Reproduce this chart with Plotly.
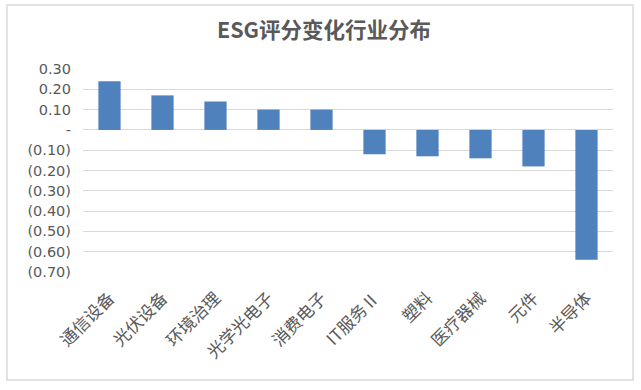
import plotly.graph_objects as go

categories = ["通信设备", "光伏设备", "环境治理", "光学光电子", "消费电子", "IT服务Ⅱ", "塑料", "医疗器械", "元件", "半导体"]
values = [0.24, 0.17, 0.14, 0.10, 0.10, -0.12, -0.13, -0.14, -0.18, -0.64]
tick_vals = [0.30, 0.20, 0.10, 0.0, -0.10, -0.20, -0.30, -0.40, -0.50, -0.60, -0.70]
tick_text = ["0.30", "0.20", "0.10", "-", "(0.10)", "(0.20)", "(0.30)", "(0.40)", "(0.50)", "(0.60)", "(0.70)"]

font = "Noto Sans CJK SC"
W, H = 641, 390
L, R, T, B = 83, 28, 69, 118
pw, ph = W - L - R, H - T - B

fig = go.Figure(go.Bar(x=categories, y=values, marker=dict(color="#4f81bd", line=dict(width=0))))

fig.update_layout(
    width=W, height=H,
    margin=dict(l=L, r=R, t=T, b=B, autoexpand=False),
    paper_bgcolor="white", plot_bgcolor="white",
    title=dict(text="<b>ESG评分变化行业分布</b>", x=324 / W, xanchor="center", xref="container",
               y=1 - 30 / H, yref="container", yanchor="middle",
               font=dict(family=font, size=21.5, color="#595959")),
    font=dict(family=font, color="#595959"),
    showlegend=False,
    bargap=0.58,
)
fig.update_yaxes(range=[-0.70, 0.30], tickvals=tick_vals, ticktext=tick_text, showgrid=True,
                 gridcolor="#d9d9d9", gridwidth=1, zeroline=False, ticks="",
                 tickfont=dict(family="DejaVu Sans", size=14.5, color="#595959"),
                 ticklabelstandoff=11, showline=False, automargin=False)
fig.update_xaxes(tickangle=-45, tickfont=dict(size=17, color="#595959"), showline=False, ticks="",
                 showgrid=False, automargin=False, ticklabelstandoff=12)
fig.add_shape(type="rect", xref="paper", yref="paper",
              x0=(7 - L) / pw, x1=(633 - L) / pw, y0=(H - B - 380) / ph, y1=(H - B - 5) / ph,
              line=dict(color="#d9d9d9", width=1.5), fillcolor="rgba(0,0,0,0)", layer="below")
fig.write_html("out.html", config={"displayModeBar": False},
               post_script="document.body.style.margin='0px';")
